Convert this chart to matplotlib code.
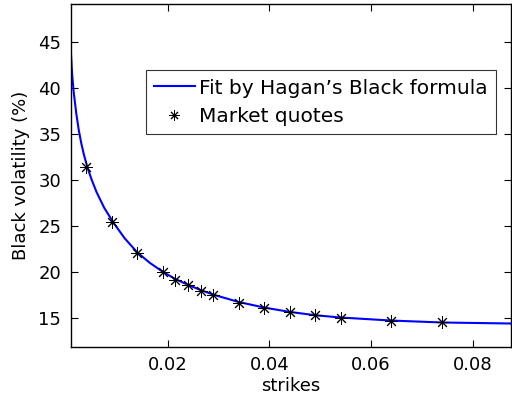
import matplotlib
matplotlib.use("Agg")
import matplotlib.pyplot as plt

plt.rcParams["font.family"] = ["DejaVu Sans"]

# Market quotes (strike, Black vol in %)
quote_strikes = [0.004, 0.009, 0.014, 0.019, 0.0215, 0.024, 0.0265, 0.029,
                 0.034, 0.039, 0.044, 0.049, 0.054, 0.064, 0.074]
quote_vols = [31.4, 25.4, 22.1, 20.0, 19.2, 18.6, 18.0, 17.5,
              16.7, 16.15, 15.65, 15.3, 15.07, 14.74, 14.53]

# Fitted curve
fit_strikes = [0.00098, 0.0012, 0.0015, 0.002, 0.0025, 0.003, 0.0035, 0.0042,
               0.005, 0.006, 0.0075, 0.0093, 0.0115, 0.014, 0.0165, 0.019,
               0.0215, 0.024, 0.0265, 0.029, 0.034, 0.039, 0.044, 0.049,
               0.054, 0.064, 0.074, 0.0875]
fit_vols = [43.6, 41.5, 39.6, 37.3, 35.45, 34.0, 32.8, 31.4,
            30.1, 28.7, 27.0, 25.4, 23.7, 22.15, 21.0, 20.05,
            19.25, 18.62, 18.05, 17.55, 16.75, 16.15, 15.68, 15.32,
            15.07, 14.74, 14.53, 14.42]

fig = plt.figure(figsize=(5.12, 4.03), dpi=100)
ax = fig.add_axes([0.1387, 0.1397, 0.8593, 0.8496])

ax.plot(fit_strikes, fit_vols, color="#0000ff", lw=1.5,
        label="Fit by Hagan\u2019s Black formula")
ax.plot(quote_strikes, quote_vols, ls="none", marker=(8, 2, 0), ms=9,
        mec="black", mew=0.7, color="black", label="Market quotes")

ax.set_xlim(0.00098, 0.0875)
ax.set_ylim(11.9, 49.1)
ax.set_xticks([0.02, 0.04, 0.06, 0.08])
ax.set_xticklabels(["0.02", "0.04", "0.06", "0.08"])
ax.set_yticks([15, 20, 25, 30, 35, 40, 45])
ax.tick_params(direction="in", top=True, right=True, labelsize=13,
               length=5, width=0.8, pad=7)
for s in ax.spines.values():
    s.set_linewidth(1.0)

ax.set_xlabel("strikes", fontsize=13, labelpad=2)
ax.set_ylabel("Black volatility (%)", fontsize=13, labelpad=6)

leg = ax.legend(loc="upper left", bbox_to_anchor=(0.17, 0.808), fontsize=14.5,
                frameon=True, fancybox=False, edgecolor="black",
                borderpad=0.42, handlelength=2.0, handletextpad=0.2,
                labelspacing=0.45, borderaxespad=0, markerscale=0.8)
leg.get_frame().set_linewidth(0.8)

fig.savefig("out.png", dpi=100)
